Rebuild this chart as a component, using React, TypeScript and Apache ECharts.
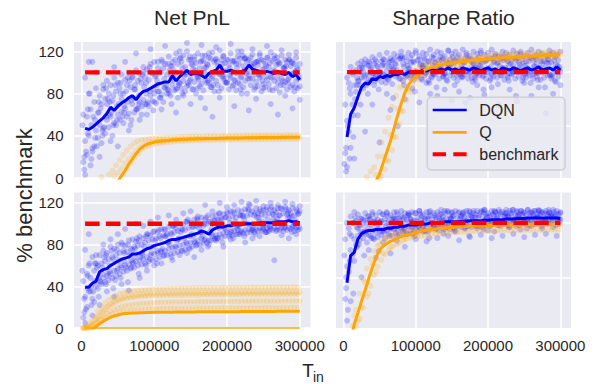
import React, { useEffect, useRef } from 'react';
import * as echarts from 'echarts';

// sample positions (training steps)
const X1 = [5000,10000,15000,20000,25000,30000,35000,40000,45000,50000,55000,60000,65000,70000,75000,80000,85000,90000,95000,100000,105000,110000,115000,120000,125000,130000,135000,140000,145000,150000,155000,160000,165000,170000,175000,180000,185000,190000,195000,200000,205000,210000,215000,220000,225000,230000,235000,240000,245000,250000,255000,260000,265000,270000,275000,280000,285000,290000,295000,300000];
const X2 = [2500,7500,12500,17500,22500,27500,32500,37500,42500,47500,52500,57500,62500,67500,72500,77500,82500,87500,92500,97500,102500,107500,112500,117500,122500,127500,132500,137500,142500,147500,152500,157500,162500,167500,172500,177500,182500,187500,192500,197500,202500,207500,212500,217500,222500,227500,232500,237500,242500,247500,252500,257500,262500,267500,272500,277500,282500,287500,292500,297500];
const X3 = [3750,8750,13750,18750,23750,28750,33750,38750,43750,48750,53750,58750,63750,68750,73750,78750,83750,88750,93750,98750,103750,108750,113750,118750,123750,128750,133750,138750,143750,148750,153750,158750,163750,168750,173750,178750,183750,188750,193750,198750,203750,208750,213750,218750,223750,228750,233750,238750,243750,248750,253750,258750,263750,268750,273750,278750,283750,288750,293750,298750];
const X4 = [1250,6250,11250,16250,21250,26250,31250,36250,41250,46250,51250,56250,61250,66250,71250,76250,81250,86250,91250,96250,101250,106250,111250,116250,121250,126250,131250,136250,141250,146250,151250,156250,161250,166250,171250,176250,181250,186250,191250,196250,201250,206250,211250,216250,221250,226250,231250,236250,241250,246250,251250,256250,261250,266250,271250,276250,281250,286250,291250,296250];
const benchmarkX = [5000, 300000];
const benchmarkY = [100, 100];
const xTicks = [0, 100000, 200000, 300000];
const yTicksLeft = [0, 40, 80, 120];
const yGridRight = [50, 100];

// ---- Net PnL, top ----
const pnlTopDqnLine = [47,46,48,51,54,57,61,67,64,68,71,73,76,78,74,79,82,83,85,87,89,90,91,91,97,92,96,99,102,98,99,99,97,95,99,101,102,107,101,101,102,101,100,101,102,107,103,102,101,100,101,100,99,101,99,98,100,96,98,93];
const pnlTopQLine = [-60,-52,-45,-38,-31,-25,-19,-13,-8,-3,2,7,13,18,23,27,30,32,33,34,34.5,35,35.3,35.6,36,36.2,36.4,36.6,36.8,37,37,37.1,37.2,37.3,37.4,37.5,37.5,37.6,37.7,37.8,37.8,37.9,38,38,38.1,38.1,38.2,38.2,38.3,38.3,38.3,38.4,38.4,38.4,38.5,38.5,38.5,38.5,38.5,38.5];
const pnlTopD1 = [95,80,110,85,78,84,92,88,95,90,98,93,100,96,102,99,105,103,108,110,104,112,108,115,110,118,113,116,120,112,115,118,111,116,114,119,113,121,116,112,118,111,115,120,114,112,117,110,116,111,114,119,113,110,116,112,117,109,114,108];
const pnlTopD2 = [60,58,65,72,62,70,75,80,73,82,85,80,88,86,84,92,90,95,93,99,97,100,104,98,106,101,108,110,105,112,107,109,104,111,108,113,110,106,112,109,107,111,108,113,106,110,114,109,107,112,108,105,111,107,109,104,110,106,108,103];
const pnlTopD3 = [35,40,28,45,50,47,55,58,52,60,63,66,61,70,65,72,74,70,78,80,82,79,85,83,88,84,90,92,87,94,91,95,89,93,90,96,92,98,94,91,95,93,90,96,92,97,94,91,95,89,93,96,92,90,94,91,95,88,92,87];
const pnlTopD4 = [15,22,12,30,38,33,42,48,40,50,55,52,58,50,62,66,60,70,68,73,71,76,72,80,78,83,76,85,82,88,84,80,87,83,90,86,82,88,85,91,84,87,83,89,86,80,88,84,87,82,86,89,83,85,81,88,84,86,82,85];
const pnlTopD5 = [3,110,25,100,20,88,70,35,105,30,75,110,45,95,118,55,100,60,122,72,110,65,125,80,106,62,120,78,128,70,112,85,126,66,118,58,124,76,115,90,127,68,120,80,113,64,122,75,118,85,125,70,116,60,121,78,112,66,119,74];
const pnlTopD6 = [20,65,50,38,72,45,85,60,78,55,90,68,95,74,88,70,98,80,105,84,92,100,86,108,95,112,90,104,98,115,103,96,110,100,107,94,112,99,108,102,97,110,104,95,113,101,106,98,111,103,96,109,102,114,99,105,93,110,101,97];
const pnlTopD7 = [50,25,80,58,30,66,48,75,62,88,70,58,82,92,76,65,94,86,72,100,96,82,110,88,102,93,85,114,97,90,108,102,93,116,105,98,88,110,104,96,112,100,92,108,116,99,94,105,110,97,103,114,95,101,108,92,106,112,99,104];
const pnlTopD8 = [8,42,18,55,62,40,58,72,50,68,80,62,72,55,84,78,68,90,82,64,88,76,94,84,70,98,88,80,100,92,84,98,76,104,92,86,100,82,96,90,104,88,99,84,102,94,108,86,98,92,106,84,100,95,88,104,90,98,86,94];
const pnlTopQA = [-40,-30,-20,-12,-6,1,-2,3,7,12,17,22,26,30,33,35,36,36.5,37,37.5,37.5,38,38,38.3,38.5,38.5,38.8,39,39,39.2,39.3,39.4,39.5,39.5,39.6,39.7,39.8,39.8,39.9,40,40,40,40.1,40.1,40.2,40.2,40.3,40.3,40.3,40.4,40.4,40.4,40.5,40.5,40.5,40.5,40.6,40.6,40.6,40.6];
const pnlTopQB = [-45,-38,-30,-24,-18,-12,-7,-2,2,5,9,14,18,22,26,29,31,32.5,33.5,34.5,35,35,35.5,35.8,36,36.3,36.5,36.6,36.8,37,37.1,37.2,37.3,37.4,37.5,37.6,37.6,37.7,37.8,37.9,37.9,38,38,38.1,38.1,38.2,38.2,38.3,38.3,38.4,38.4,38.4,38.5,38.5,38.5,38.6,38.6,38.6,38.6,38.6];
const pnlTopQC = [-70,-60,-50,-42,-35,-28,-22,-16,-11,-6,-1,4,9,14,19,23,27,29,30.5,31.5,32.5,33,33.5,34,34.3,34.6,34.8,35,35.2,35.3,35.4,35.5,35.6,35.7,35.8,35.9,36,36,36.1,36.1,36.2,36.2,36.3,36.3,36.4,36.4,36.4,36.5,36.5,36.5,36.6,36.6,36.6,36.7,36.7,36.7,36.7,36.8,36.8,36.8];

// ---- Sharpe Ratio, top ----
const shpTopDqnLine = [40,61,67,77,86,90,89,94,93,96,95,97,96,98,98,99,98,100,100,101,100,102,101,103,102,101,103,102,104,102,103,101,104,103,102,104,103,101,103,104,102,103,101,104,103,102,104,103,101,103,104,102,103,105,102,103,104,102,105,102];
const shpTopQLine = [-80,-70,-60,-50,-40,-30,-20,-10,-1,6,16,26,36,48,60,71,81,88,93,96,99,101,103,104,105,106,107,107.5,108,108.5,109,109.5,110,110.4,110.8,111.2,111.5,111.8,112,112.3,112.6,112.9,113.1,113.3,113.5,113.7,113.9,114.1,114.3,114.5,114.7,114.9,115.1,115.3,115.5,115.7,115.8,116,116.1,116.3];
const shpTopD1 = [95,105,100,108,110,112,106,114,110,116,112,118,113,117,115,119,114,118,116,120,115,118,117,121,116,119,118,115,120,117,119,116,121,118,115,119,117,120,116,118,121,117,115,119,118,116,120,117,119,115,118,121,116,119,117,115,120,118,116,119];
const shpTopD2 = [70,90,98,102,104,100,107,103,108,105,110,106,109,111,107,112,108,110,113,109,111,108,112,110,114,109,111,113,110,112,108,114,111,109,113,110,112,114,109,111,113,110,108,112,114,110,111,113,109,112,110,114,111,108,113,110,112,109,114,111];
const shpTopD3 = [55,80,88,92,95,97,93,99,96,100,98,101,97,102,99,100,98,103,100,101,99,104,100,102,98,103,101,99,104,100,102,98,103,101,100,104,99,102,101,103,98,102,100,104,101,99,103,100,102,98,104,101,99,103,100,102,98,103,101,100];
const shpTopD4 = [25,45,70,82,88,85,90,92,88,94,91,95,93,89,96,94,92,97,95,93,96,94,97,92,95,98,94,96,93,97,95,92,96,98,94,95,93,97,96,94,92,96,95,97,93,95,98,94,96,92,95,97,94,96,93,95,97,94,92,96];
const shpTopD5 = [12,30,20,60,105,45,110,70,98,35,108,80,65,112,50,115,75,100,85,118,72,106,90,80,113,78,104,84,120,74,110,82,96,116,76,108,88,118,79,104,86,115,70,100,112,84,106,73,117,90,102,78,114,86,108,62,116,80,100,88];
const shpTopD6 = [30,85,60,95,100,108,98,104,112,101,106,96,110,103,98,113,105,100,109,97,112,104,99,110,106,101,114,98,108,103,111,100,106,113,99,108,104,110,97,112,105,100,109,114,102,107,99,111,104,108,101,113,106,99,110,104,112,98,107,105];
const shpTopD7 = [15,50,100,75,92,104,88,109,95,106,100,112,94,105,108,99,113,96,104,110,98,107,113,101,96,109,105,111,99,106,114,97,103,109,101,112,95,107,104,110,99,113,102,106,111,97,108,103,113,100,106,110,98,112,104,101,109,97,111,106];
const shpTopD8 = [8,20,40,88,70,95,80,100,92,84,98,90,105,76,102,94,88,106,97,82,100,93,107,90,99,86,104,96,92,108,88,101,95,72,103,91,98,106,84,100,94,109,89,97,104,92,101,78,107,95,99,90,105,93,102,86,108,96,91,103];
const shpTopQA = [-60,-50,-40,-30,-20,-10,3,8,12,22,35,45,58,68,78,86,92,96,99,102,104,105,106.5,107.5,108.5,109,110,110.5,111,111.5,112,112.4,112.8,113.2,113.6,114,114.3,114.6,114.9,115.2,115.5,115.8,116,116.2,116.4,116.6,116.8,117,117.2,117.4,117.6,117.8,118,118.1,118.2,118.4,118.5,118.6,118.7,118.8];
const shpTopQB = [-70,-60,-50,-40,-30,-20,-12,-5,5,2,22,18,42,40,66,64,86,84,95,94,98,102,102,105,104,107,106,108,108,109,108,110,109,111,110,111.5,111,112.5,111.8,113,112.5,113.5,113,114,113.2,114.3,113.8,114.7,114.2,115,114.5,115.5,114.9,115.8,115.3,116.2,115.6,116.5,115.9,116.7];
const shpTopQC = [-90,-80,-70,-60,-50,-40,-30,-20,-12,-5,4,10,18,28,40,52,64,74,82,88,93,96,98.5,100,101.5,102.5,103.5,104.3,105,105.6,106.2,106.7,107.2,107.6,108,108.4,108.8,109.1,109.4,109.7,110,110.3,110.5,110.7,110.9,111.1,111.3,111.5,111.7,111.9,112.1,112.3,112.4,112.6,112.8,112.9,113,113.1,113.2,113.3];

// ---- Net PnL, bottom ----
const pnlBotDqnLine = [39,39,43,45,54,56,57,60,62,64,66,67,68,71,71,72,74,76,77,79,80,81,82,84,85,85,86,87,88,89,90,91,93,92,90,94,96,97,97,98,98,99,99,99,100,100,100,100,101,101,101,101,101,102,102,102,103,102,102,101];
const pnlBotQLine = [-6,-4,-1.5,1.5,4,6.4,8.5,10.3,11.5,12.5,13.4,13.9,14.2,14.4,14.5,14.6,14.7,14.8,14.9,15,15,15.1,15.1,15.2,15.2,15.3,15.3,15.3,15.4,15.4,15.4,15.5,15.5,15.5,15.5,15.6,15.6,15.6,15.6,15.7,15.7,15.7,15.7,15.8,15.8,15.8,15.8,15.8,15.9,15.9,15.9,15.9,15.9,16,16,16,16,16,16,16];
const pnlBotQZero = [0,0,0,0,0,0,0,0,0,0,0,0,0,0,0,0,0,0,0,0,0,0,0,0,0,0,0,0,0,0,0,0,0,0,0,0,0,0,0,0,0,0,0,0,0,0,0,0,0,0,0,0,0,0,0,0,0,0,0,0];
const pnlBotD1 = [75,60,68,62,70,74,72,78,76,80,82,79,84,85,83,88,86,90,89,93,92,95,94,97,98,96,100,99,102,101,104,103,106,104,102,107,108,110,109,111,112,110,113,112,114,113,112,115,114,113,116,114,113,115,114,116,113,115,114,112];
const pnlBotD2 = [45,52,48,55,60,62,64,66,68,70,72,74,73,76,78,79,80,82,84,85,86,88,89,90,91,92,93,95,94,96,97,98,99,98,100,102,103,104,105,106,105,107,106,108,107,108,109,108,110,109,108,110,109,111,108,110,109,110,108,109];
const pnlBotD3 = [30,35,28,40,45,48,50,52,55,57,58,60,61,63,64,65,66,68,70,71,72,73,74,76,77,78,79,80,81,82,83,84,86,85,84,88,89,90,91,92,92,93,94,93,94,95,94,95,96,95,96,95,96,97,96,97,96,97,96,95];
const pnlBotD4 = [10,20,35,25,38,42,44,46,48,50,52,54,55,57,58,60,61,62,64,65,66,68,69,70,71,72,73,74,75,77,78,79,80,81,82,84,85,86,87,88,88,89,90,90,91,91,92,92,93,93,92,93,94,93,94,93,94,95,93,94];
const pnlBotD5 = [5,90,12,70,22,80,35,85,30,90,42,95,36,75,100,48,98,55,102,60,106,62,88,108,65,104,70,110,72,112,68,107,75,118,80,112,84,120,78,116,85,118,90,121,82,119,86,122,88,117,92,120,65,118,89,121,86,119,90,117];
const pnlBotD6 = [28,50,40,62,48,58,70,54,66,75,60,72,80,65,76,84,70,88,78,92,74,86,95,82,90,99,85,94,102,88,97,105,92,100,108,95,103,110,98,106,101,112,96,108,104,114,99,110,106,102,113,97,109,105,115,100,111,107,103,110];
const pnlBotD7 = [55,18,62,35,58,44,68,52,74,46,65,80,58,70,62,86,68,78,90,72,84,94,76,88,80,98,84,92,86,104,90,82,96,88,106,92,100,86,104,96,110,94,102,98,108,100,118,96,106,112,98,104,116,102,108,100,114,106,98,112];
const pnlBotD8 = [15,38,22,45,30,52,42,60,38,55,48,64,44,58,68,52,72,60,66,78,62,74,70,82,68,78,86,74,82,76,88,80,92,84,78,90,86,96,82,94,90,86,98,92,88,100,94,90,102,96,92,98,104,94,100,96,106,92,100,97];
const pnlBotQ1 = [0,2,6,11,16,20,24,27,29,31,32.5,33.5,34.5,35,35.5,36,36.3,36.6,36.9,37.1,37.3,37.5,37.6,37.7,37.8,37.9,38,38,38.1,38.1,38.2,38.2,38.3,38.3,38.3,38.4,38.4,38.4,38.5,38.5,38.5,38.5,38.6,38.6,38.6,38.6,38.7,38.7,38.7,38.7,38.7,38.8,38.8,38.8,38.8,38.8,38.8,38.9,38.9,38.9];
const pnlBotQ2 = [0,1,4,8,12,16,20,23,25,27,28.5,29.5,30.5,31,31.5,32,32.3,32.6,32.8,33,33.1,33.2,33.3,33.4,33.5,33.5,33.6,33.6,33.7,33.7,33.8,33.8,33.8,33.9,33.9,33.9,34,34,34,34,34.1,34.1,34.1,34.1,34.2,34.2,34.2,34.2,34.2,34.3,34.3,34.3,34.3,34.3,34.3,34.4,34.4,34.4,34.4,34.4];
const pnlBotQ3 = [0,1,3,7,11,15,18,21,23,25,26.5,27.5,28.3,29,29.5,30,30.3,30.6,30.8,31,31.1,31.2,31.3,31.4,31.5,31.5,31.6,31.6,31.7,31.7,31.8,31.8,31.8,31.9,31.9,31.9,32,32,32,32,32.1,32.1,32.1,32.1,32.2,32.2,32.2,32.2,32.2,32.3,32.3,32.3,32.3,32.3,32.3,32.4,32.4,32.4,32.4,32.4];
const pnlBotQ4 = [0,0,2,5,8,11,14,16,18,19.5,20.5,21.5,22,22.5,23,23.3,23.6,23.9,24.1,24.3,24.5,24.6,24.7,24.8,24.9,25,25,25.1,25.1,25.2,25.2,25.3,25.3,25.3,25.4,25.4,25.4,25.5,25.5,25.5,25.6,25.6,25.6,25.6,25.7,25.7,25.7,25.7,25.8,25.8,25.8,25.8,25.8,25.9,25.9,25.9,25.9,25.9,26,26];
const pnlBotQ5 = [0,0,1,3,6,8,10,12,13.5,14.5,15.5,16.2,16.8,17.2,17.5,17.8,18,18.2,18.4,18.5,18.6,18.7,18.8,18.9,19,19,19.1,19.1,19.2,19.2,19.2,19.3,19.3,19.3,19.4,19.4,19.4,19.4,19.5,19.5,19.5,19.5,19.5,19.6,19.6,19.6,19.6,19.6,19.7,19.7,19.7,19.7,19.7,19.7,19.8,19.8,19.8,19.8,19.8,19.8];

// ---- Sharpe Ratio, bottom ----
const shpBotDqnLine = [45,70,73,85,90,92,93,93,94,94,94,95,95,96,96,97,97,98,98,98,99,99,99,100,100,100,100,101,101,101,101,101,101.5,101.5,102,102,102,102,102.5,102.5,103,103,103,103,103.5,103.5,103.5,104,104,104,104.5,104.5,104.5,104.5,104.5,104.5,104.5,104.5,104.5,104];
const shpBotQLine = [-25,-10,7,17,28,38,49,59,68,75,78.5,81,83,84.5,86,87.3,88.5,89.3,90,91,92,92.8,93.3,93.8,94.2,94.6,95,95.4,95.7,96,96.2,96.4,96.6,96.8,97,97.2,97.3,97.5,97.6,97.7,97.8,97.9,98,98,98.1,98.1,98.2,98.2,98.2,98.3,98.3,98.3,98.4,98.4,98.4,98.4,98.5,98.5,98.5,98.4];
const shpBotD1 = [100,106,110,108,104,109,106,110,107,110,108,109,107,110,108,111,109,108,110,109,111,108,110,111,109,110,108,111,110,109,111,110,108,111,110,109,111,110,112,109,111,110,112,110,109,111,112,110,111,109,112,110,111,112,110,111,109,112,111,110];
const shpBotD2 = [85,95,100,102,98,103,100,104,101,103,102,104,101,103,104,102,105,103,104,102,105,103,104,106,103,105,104,106,104,105,107,104,106,105,107,106,105,107,106,108,106,107,105,108,107,106,108,107,106,108,107,109,106,108,107,109,107,108,106,108];
const shpBotD3 = [60,75,85,88,90,92,89,93,91,92,94,93,95,94,93,96,95,97,96,95,98,97,96,99,98,97,99,98,100,99,98,100,99,101,100,99,101,100,102,101,100,102,101,103,102,101,103,102,103,101,103,102,104,103,102,104,103,102,104,103];
const shpBotD4 = [30,55,70,80,84,86,82,88,85,87,89,86,90,88,91,89,92,90,93,91,92,94,93,92,95,94,93,95,96,94,95,97,96,95,97,96,98,97,96,98,97,99,98,97,99,98,100,99,98,100,99,98,100,99,101,100,99,101,100,99];
const shpBotD5 = [10,28,65,95,50,102,75,108,68,100,82,110,72,104,88,106,78,109,90,85,111,92,83,107,96,86,112,94,88,110,92,84,109,97,87,111,95,89,112,93,86,110,98,88,112,96,90,111,94,87,112,97,89,111,95,90,110,96,88,109];
const shpBotD6 = [40,90,100,96,104,92,106,98,102,95,108,100,96,105,110,99,104,107,101,109,97,106,103,110,100,105,108,102,111,104,99,109,106,102,111,105,108,100,110,106,103,111,107,101,109,105,112,104,108,110,102,107,111,105,109,103,112,106,108,104];
const shpBotD7 = [70,20,88,105,80,98,90,103,86,97,101,92,106,95,99,104,93,100,107,96,102,108,98,104,100,107,97,103,109,101,106,98,104,110,102,107,99,105,111,103,100,108,104,110,101,106,109,103,107,111,104,100,109,105,111,102,108,106,110,103];
const shpBotD8 = [50,65,35,78,92,70,95,86,100,74,92,97,88,101,84,98,94,90,103,88,96,100,92,86,99,95,102,90,97,104,93,99,101,95,88,103,97,100,94,105,98,92,102,99,106,96,101,97,104,100,95,103,99,106,97,102,100,105,98,101];
const shpBotQA = [-30,-12,5,20,35,48,58,67,74,79,83,86,88,89.5,90.5,91.5,92.5,93.3,94,94.6,95.2,95.7,96.2,96.6,97,97.4,97.7,98,98.3,98.5,98.7,98.9,99.1,99.3,99.4,99.5,99.6,99.7,99.8,99.9,100,100,100.1,100.1,100.2,100.2,100.3,100.3,100.3,100.4,100.4,100.4,100.5,100.5,100.5,100.5,100.5,100.6,100.6,100.6];
const shpBotQB = [-20,2,15,10,22,45,35,62,55,80,72,85,78,88,82,90,85,91,88,92,91,93.5,92.5,94.5,93.5,95.5,94.5,96,95.2,96.6,95.8,97,96.4,97.3,96.8,97.6,97.1,97.9,97.3,98.1,97.5,98.3,97.6,98.4,97.8,98.5,97.9,98.6,98,98.7,98,98.7,98.1,98.8,98.1,98.8,98.2,98.9,98.2,98.8];
const shpBotQC = [-40,-25,2,5,12,22,32,42,52,60,66,71,75,78,80,82,84,85.5,86.5,87,87.5,88,88.5,89,89.4,89.8,90.2,90.5,90.8,91.1,91.4,91.6,91.8,92,92.2,92.4,92.5,92.6,92.7,92.8,92.9,93,93,93.1,93.1,93.2,93.2,93.3,93.3,93.3,93.4,93.4,93.4,93.5,93.5,93.5,93.5,93.5,93.6,93.6];

const BLUE = '#0000ff';
const ORANGE = '#ffa500';
const RED = '#ff0000';
const BG = '#eaeaf2';
const TXT = '#262626';
const FONT = 'Liberation Sans, Arial, sans-serif';

const pts = (xs: number[], ys: number[]) => xs.map((x, i) => [x, ys[i]]);

type Panel = {
  grid: { left: number; top: number; width: number; height: number };
  yMin: number; yMax: number; showX: boolean; showY: boolean; yGrid: number[];
  dqnRuns: number[][][]; qRuns: number[][][]; dqnLine: number[]; qLine: number[]; zero?: number[];
};

const panels: Panel[] = [
  {
    grid: { left: 74, top: 42, width: 236.5, height: 136 }, yMin: 0, yMax: 128.8, showX: false, showY: true, yGrid: yTicksLeft,
    dqnRuns: [pts(X1, pnlTopD1), pts(X2, pnlTopD2), pts(X1, pnlTopD3), pts(X2, pnlTopD4), pts(X1, pnlTopD5), pts(X3, pnlTopD6), pts(X4, pnlTopD7), pts(X3, pnlTopD8)],
    qRuns: [pts(X2, pnlTopQA), pts(X1, pnlTopQB), pts(X2, pnlTopQC)],
    dqnLine: pnlTopDqnLine, qLine: pnlTopQLine,
  },
  {
    grid: { left: 336, top: 42, width: 235, height: 136 }, yMin: 2, yMax: 128, showX: false, showY: false, yGrid: yGridRight,
    dqnRuns: [pts(X1, shpTopD1), pts(X2, shpTopD2), pts(X1, shpTopD3), pts(X2, shpTopD4), pts(X1, shpTopD5), pts(X3, shpTopD6), pts(X4, shpTopD7), pts(X3, shpTopD8)],
    qRuns: [pts(X2, shpTopQA), pts(X1, shpTopQB), pts(X2, shpTopQC)],
    dqnLine: shpTopDqnLine, qLine: shpTopQLine,
  },
  {
    grid: { left: 74, top: 192.5, width: 236.5, height: 135.5 }, yMin: 0, yMax: 130, showX: true, showY: true, yGrid: yTicksLeft,
    dqnRuns: [pts(X1, pnlBotD1), pts(X2, pnlBotD2), pts(X1, pnlBotD3), pts(X2, pnlBotD4), pts(X1, pnlBotD5), pts(X3, pnlBotD6), pts(X4, pnlBotD7), pts(X3, pnlBotD8)],
    qRuns: [pts(X2, pnlBotQ1), pts(X1, pnlBotQ2), pts(X2, pnlBotQ3), pts(X1, pnlBotQ4), pts(X2, pnlBotQ5)],
    dqnLine: pnlBotDqnLine, qLine: pnlBotQLine, zero: pnlBotQZero,
  },
  {
    grid: { left: 336, top: 192.5, width: 235, height: 135.5 }, yMin: 3.3, yMax: 128, showX: true, showY: false, yGrid: yGridRight,
    dqnRuns: [pts(X1, shpBotD1), pts(X2, shpBotD2), pts(X1, shpBotD3), pts(X2, shpBotD4), pts(X1, shpBotD5), pts(X3, shpBotD6), pts(X4, shpBotD7), pts(X3, shpBotD8)],
    qRuns: [pts(X2, shpBotQA), pts(X1, shpBotQB), pts(X2, shpBotQC)],
    dqnLine: shpBotDqnLine, qLine: shpBotQLine,
  },
];

function buildOption() {
  const grid: any[] = [];
  const xAxis: any[] = [];
  const yAxis: any[] = [];
  const series: any[] = [];
  panels.forEach((p, i) => {
    grid.push({ ...p.grid, show: true, backgroundColor: BG, borderWidth: 0, containLabel: false });
    xAxis.push({
      gridIndex: i, type: 'value', min: -10250, max: 314750,
      axisLine: { show: false }, axisTick: { show: false }, splitLine: { show: false },
      axisLabel: {
        show: p.showX, customValues: xTicks, formatter: (v: number) => String(v),
        fontSize: 15, color: TXT, fontFamily: FONT, margin: 10,
      },
    });
    yAxis.push({
      gridIndex: i, type: 'value', min: p.yMin, max: p.yMax,
      axisLine: { show: false }, axisTick: { show: false }, splitLine: { show: false },
      axisLabel: {
        show: p.showY, customValues: yTicksLeft, formatter: (v: number) => String(v),
        fontSize: 15, color: TXT, fontFamily: FONT, margin: 10.5,
      },
    });
    const gridLines = [
      ...xTicks.map((v) => ({ xAxis: v })),
      ...p.yGrid.map((v) => ({ yAxis: v })),
    ];
    series.push({
      type: 'line', xAxisIndex: i, yAxisIndex: i, data: [], z: 1, silent: true,
      markLine: {
        z: 1, silent: true, symbol: ['none', 'none'], label: { show: false }, animation: false,
        lineStyle: { color: '#ffffff', width: 1.5, type: 'solid' },
        emphasis: { disabled: true },
        data: gridLines,
      },
    });
    series.push({
      type: 'scatter', xAxisIndex: i, yAxisIndex: i, silent: true, symbolSize: 6, z: 2,
      itemStyle: { color: BLUE, opacity: 0.21 },
      data: ([] as number[][]).concat(...p.dqnRuns),
    });
    series.push({
      type: 'scatter', xAxisIndex: i, yAxisIndex: i, silent: true, symbolSize: 6, z: 2,
      itemStyle: { color: ORANGE, opacity: 0.2 },
      data: ([] as number[][]).concat(...p.qRuns),
    });
    if (p.zero) {
      series.push({
        type: 'line', xAxisIndex: i, yAxisIndex: i, silent: true, showSymbol: false, z: 3,
        lineStyle: { color: ORANGE, width: 1.8, opacity: 0.75 },
        data: pts(X1, p.zero),
      });
    }
    series.push({
      type: 'line', name: 'DQN', xAxisIndex: i, yAxisIndex: i, silent: true, showSymbol: false, z: 3,
      lineStyle: { color: BLUE, width: 3 }, itemStyle: { color: BLUE },
      data: pts(X1, p.dqnLine),
    });
    series.push({
      type: 'line', name: 'Q', xAxisIndex: i, yAxisIndex: i, silent: true, showSymbol: false, z: 3,
      lineStyle: { color: ORANGE, width: 3 }, itemStyle: { color: ORANGE },
      data: pts(X1, p.qLine),
    });
    series.push({
      type: 'line', name: 'benchmark', xAxisIndex: i, yAxisIndex: i, silent: true, showSymbol: false, z: 4,
      lineStyle: { color: RED, width: 4.3, type: [14.5, 6.3] }, itemStyle: { color: RED },
      data: pts(benchmarkX, benchmarkY),
    });
  });

  const graphic: any[] = [
    { type: 'text', x: 192, y: 17.5, z: 100, style: { text: 'Net PnL', fill: TXT, font: `21px ${FONT}`, textAlign: 'center', textVerticalAlign: 'middle' } },
    { type: 'text', x: 453.5, y: 17.5, z: 100, style: { text: 'Sharpe Ratio', fill: TXT, font: `21px ${FONT}`, textAlign: 'center', textVerticalAlign: 'middle' } },
    { type: 'text', x: 24, y: 195.5, rotation: Math.PI / 2, z: 100, style: { text: '% benchmark', fill: TXT, font: `22px ${FONT}`, textAlign: 'center', textVerticalAlign: 'middle' } },
    { type: 'text', x: 302.3, y: 370, z: 100, style: { text: 'T', fill: TXT, font: `19px ${FONT}`, textAlign: 'left', textVerticalAlign: 'middle' } },
    { type: 'text', x: 313, y: 376.5, z: 100, style: { text: 'in', fill: TXT, font: `14px ${FONT}`, textAlign: 'left', textVerticalAlign: 'middle' } },
    // legend
    { type: 'rect', z: 100, shape: { x: 427.3, y: 97.3, width: 137.7, height: 72.7, r: 4 }, style: { fill: 'rgba(234,234,242,0.8)', stroke: '#cfcfd4', lineWidth: 1.6 } },
    { type: 'line', z: 101, shape: { x1: 432.7, y1: 110, x2: 466.7, y2: 110 }, style: { stroke: BLUE, lineWidth: 2.7 } },
    { type: 'line', z: 101, shape: { x1: 432.7, y1: 132.3, x2: 466.7, y2: 132.3 }, style: { stroke: ORANGE, lineWidth: 2.7 } },
    { type: 'line', z: 101, shape: { x1: 432.7, y1: 154.3, x2: 466.7, y2: 154.3 }, style: { stroke: RED, lineWidth: 4, lineDash: [13.3, 7.3] } },
    { type: 'text', x: 479.3, y: 110, z: 101, style: { text: 'DQN', fill: TXT, font: `16px ${FONT}`, textAlign: 'left', textVerticalAlign: 'middle' } },
    { type: 'text', x: 479.3, y: 132.3, z: 101, style: { text: 'Q', fill: TXT, font: `16px ${FONT}`, textAlign: 'left', textVerticalAlign: 'middle' } },
    { type: 'text', x: 479.3, y: 154.3, z: 101, style: { text: 'benchmark', fill: TXT, font: `16px ${FONT}`, textAlign: 'left', textVerticalAlign: 'middle' } },
  ];

  return { animation: false, backgroundColor: '#ffffff', grid, xAxis, yAxis, series, graphic };
}

export default function App() {
  const ref = useRef<HTMLDivElement>(null);
  useEffect(() => {
    document.body.style.margin = '0';
    const chart = echarts.init(ref.current as HTMLDivElement, null, { renderer: 'svg' });
    chart.setOption(buildOption() as any);
    return () => chart.dispose();
  }, []);
  return <div ref={ref} style={{ position: 'fixed', left: 0, top: 0, width: 595, height: 384 }} />;
}
